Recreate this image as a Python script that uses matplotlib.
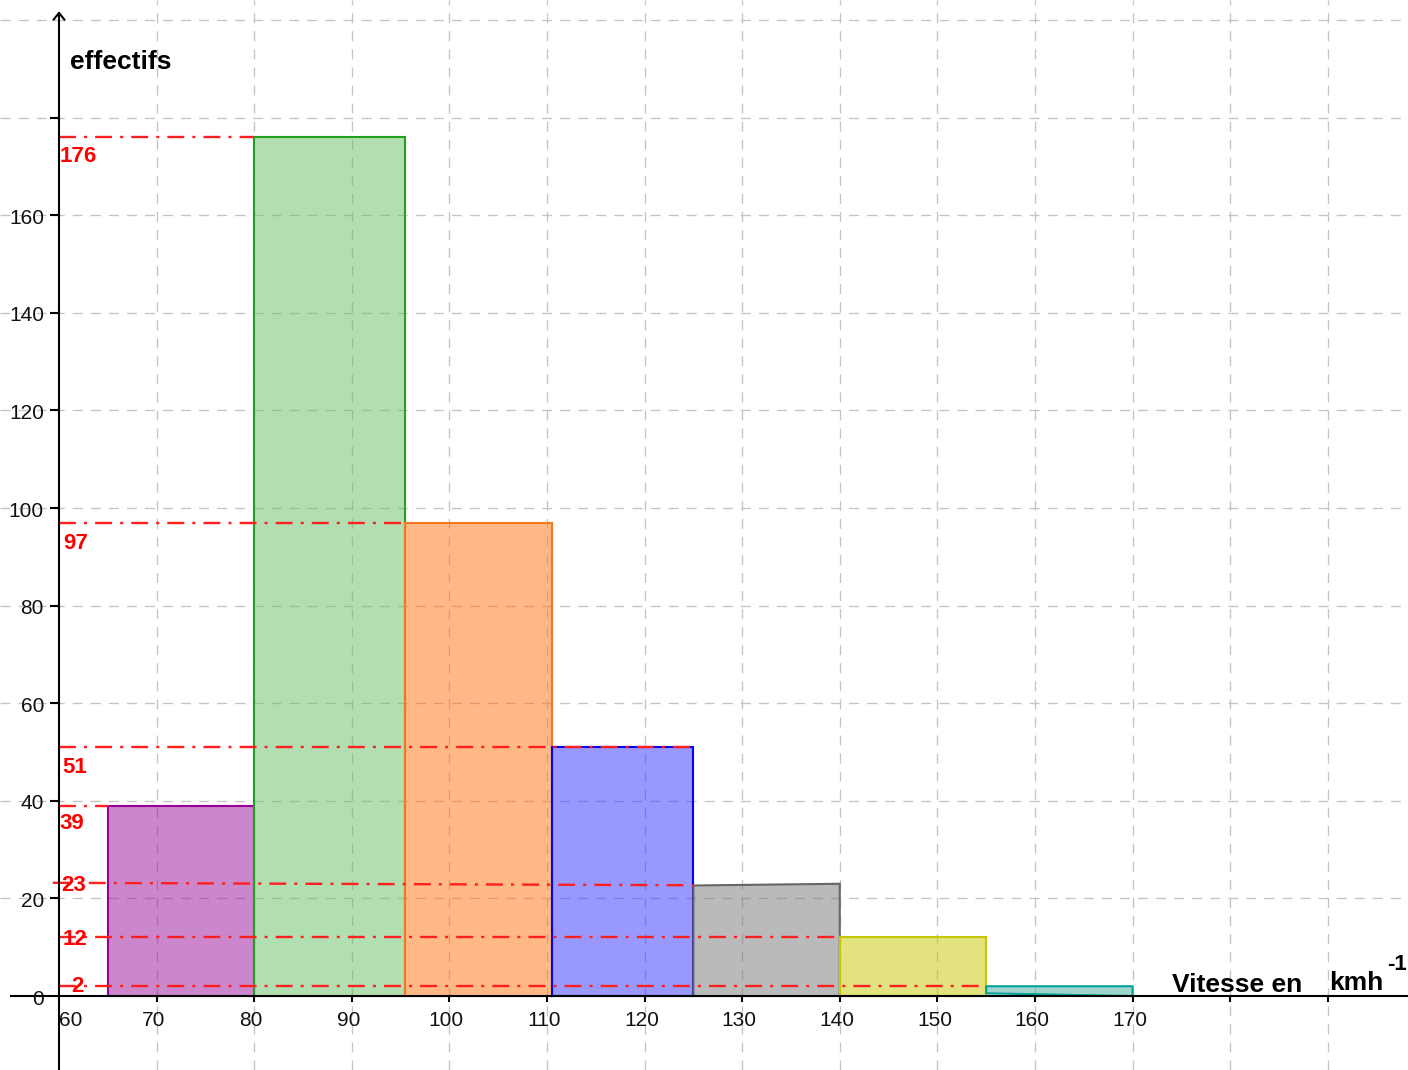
import matplotlib
matplotlib.use('Agg')
import matplotlib.pyplot as plt
from matplotlib.transforms import ScaledTranslation

plt.rcParams['font.family'] = ['Liberation Sans', 'DejaVu Sans']
plt.rcParams['lines.scale_dashes'] = False

# ---------------- data ----------------
bin_edges = [65, 80, 95.5, 110.5, 125, 140, 155, 170]
counts = [39, 176, 97, 51, 23, 12, 2]
# slight distortions seen in the original drawing
top_left = [39, 176, 97, 51, 22.65, 12, 2]
top_right = [39, 176, 97, 51, 23.0, 12, 2]
bottom_left = [0, 0, 0, 0, 0, 0, 0.55]
bottom_right = [0, 0, 0, 0, 0, 0, 0]

ref_labels = ['176', '97', '51', '39', '23', '12', '2']
ref_start_x = [60, 60, 60, 60, 59.35, 60, 60]
ref_end_x = [80, 95.5, 125, 65, 125, 140, 155]
ref_start_y = [176, 97, 51, 39, 23.2, 12, 2]
ref_end_y = [176, 97, 51, 39, 22.7, 12, 2]

x_tick_labels = [60, 70, 80, 90, 100, 110, 120, 130, 140, 150, 160, 170]
x_tick_marks = [70, 80, 90, 100, 110, 120, 130, 140, 150, 160, 170, 180, 190]
y_tick_labels = [0, 20, 40, 60, 80, 100, 120, 140, 160]
y_tick_marks = [20, 40, 60, 80, 100, 120, 140, 160, 180]
x_grid = [70, 80, 90, 100, 110, 120, 130, 140, 150, 160, 170, 180, 190]
y_grid = [20, 40, 60, 80, 100, 120, 140, 160, 180, 200]

face_colors = ['#9b0f9b', '#67c167', '#ff730f', '#3333ff', '#777777', '#c7c700', '#41af9b']
edge_colors = ['#990099', '#22a022', '#f07820', '#0000ff', '#666666', '#c8c800', '#00a096']

# ---------------- figure ----------------
fig = plt.figure(figsize=(14.08, 10.70), dpi=100)
ax = fig.add_axes([0, 0, 1, 1])
ax.set_xlim(53.955, 198.22)
ax.set_ylim(-15.16, 204.1)
ax.set_axis_off()

def off(dx_px, dy_px):
    return ax.transData + ScaledTranslation(dx_px / 100.0, dy_px / 100.0, fig.dpi_scale_trans)

# grid
grid_kw = dict(color='#c4c4c4', lw=0.95, dashes=(7.2, 5.8), zorder=1)
for gx in x_grid:
    ax.axvline(gx, **grid_kw)
for gy in y_grid:
    ax.axhline(gy, **grid_kw)

# bars
for i in range(len(counts)):
    x0, x1 = bin_edges[i], bin_edges[i + 1]
    xs = [x0, x1, x1, x0]
    ys = [bottom_left[i], bottom_right[i], top_right[i], top_left[i]]
    ax.fill(xs, ys, facecolor=face_colors[i], alpha=0.5, zorder=2, lw=0)
    ax.fill(xs, ys, facecolor='none', edgecolor=edge_colors[i], lw=1.5, zorder=3)

# axes lines
ax.plot([54.98, 199], [0, 0], color='black', lw=1.5, zorder=5, solid_capstyle='butt')
ax.annotate('', xy=(60, 201.8), xytext=(60, -16),
            arrowprops=dict(arrowstyle='->,head_length=0.5,head_width=0.4',
                            lw=1.5, color='black', mutation_scale=10,
                            shrinkA=0, shrinkB=0), zorder=5)

# tick marks
for tx in x_tick_marks:
    ax.plot([tx, tx], [0, -6 / 4.88], color='black', lw=1.5, zorder=5, solid_capstyle='butt')
for ty in y_tick_marks:
    ax.plot([60 - 9 / 9.76, 60], [ty, ty], color='black', lw=1.5, zorder=5, solid_capstyle='butt')

# tick labels
for v in x_tick_labels:
    if v == 60:
        ax.text(v, 0, str(v), transform=off(0, -30), ha='left', va='baseline',
                fontsize=15, color='#111111', zorder=6)
    else:
        ax.text(v, 0, str(v), transform=off(-3, -30), ha='center', va='baseline',
                fontsize=15, color='#111111', zorder=6)
for v in y_tick_labels:
    ax.text(60, v, str(v), transform=off(-15, -8.5), ha='right', va='baseline',
            fontsize=15, color='#111111', zorder=6)

# red reference lines
for i in range(len(ref_labels)):
    ax.plot([ref_start_x[i], ref_end_x[i]], [ref_start_y[i], ref_end_y[i]],
            color='#ff1f1f', lw=1.7, dashes=(12.2, 5.8, 2.2, 5.8), zorder=4)

# red labels (pixel offsets: dx from axis, dy of baseline from line)
label_offsets = [(1, -25), (4, -26.5), (3, -26), (0, -23.6), (2.7, -8), (4, -8), (12, -6)]
for i, lab in enumerate(ref_labels):
    dx, dy = label_offsets[i]
    ax.text(60, ref_start_y[i], lab, transform=off(dx, dy), ha='left', va='baseline',
            fontsize=16, fontweight='bold', color='#ff0000', zorder=7)

# axis titles
ax.text(61.13, 189.9, 'effectifs', ha='left', va='baseline', fontsize=19,
        fontweight='bold', color='black', zorder=7)
ax.text(174.0, 0.92, 'Vitesse en', ha='left', va='baseline', fontsize=19,
        fontweight='bold', color='black', zorder=7)
ax.text(190.18, 1.23, 'kmh', ha='left', va='baseline', fontsize=19,
        fontweight='bold', color='black', zorder=7)
ax.text(196.1, 5.43, '-1', ha='left', va='baseline', fontsize=16,
        fontweight='bold', color='black', zorder=7)

fig.savefig('out.png', dpi=100)
